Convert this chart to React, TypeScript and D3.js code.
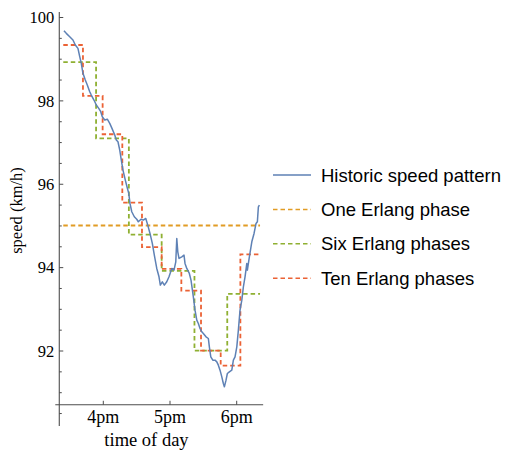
import React from "react";
import * as d3 from "d3";

// time in minutes after 15:00
const timeMin = [24.6,26.7,29.8,32.7,34.8,37.2,38.8,40.2,41.7,43.8,45.6,47.8,49.2,51.6,53.7,55.9,57.7,59.1,61.3,63.6,65.8,67.8,70.3,71.7,73.2,74.8,76.2,77.7,79.8,81.3,82.9,84.0,85.6,87.9,90.1,91.5,93.9,96.0,98.2,100.0,102.0,104.1,105.9,108.1,110.1,111.3,113.1,114.9,117.1,119.1,121.6,123.6,125.2,126.1,127.0,128.1,130.6,132.6,133.5,135.1,137.4,138.9,141.0,142.5,144.1,145.5,147.0,148.6,150.0,152.4,154.5,155.4,156.7,158.5,160.5,162.1,163.5,165.0,166.6,168.0,168.9,170.4,171.6,173.4,175.6,177.0,178.5,180.1,181.5,183.0,184.6,186.0,187.5,189.1,189.6,191.4,193.6,195.6,197.4,198.6,199.5,200.4];
const historicSpeed = [99.68,99.62,99.54,99.46,99.34,99.26,99.06,98.90,98.66,98.50,98.38,98.22,98.14,98.02,97.90,97.82,97.74,97.62,97.54,97.56,97.46,97.34,97.18,97.06,97.02,96.82,96.58,96.34,96.10,95.94,95.78,95.54,95.34,95.22,95.16,95.10,95.16,95.14,95.18,95.02,94.82,94.58,94.30,93.98,93.78,93.58,93.66,93.58,93.66,93.78,93.98,93.94,94.14,94.70,94.38,94.22,94.26,94.30,94.10,93.98,93.86,93.70,93.30,92.98,92.74,92.66,92.54,92.46,92.42,92.34,92.30,92.10,91.86,91.78,91.78,91.74,91.66,91.54,91.38,91.22,91.14,91.30,91.46,91.50,91.54,91.78,91.86,92.10,92.50,92.98,93.22,93.54,93.78,94.10,93.94,94.26,94.62,94.82,95.06,95.10,95.46,95.50];

const phaseStart = 24;
const phaseEnd = 201;
const oneErlang = [95.01];
const sixErlang = [98.93, 97.1, 94.79, 93.92, 92.01, 93.37];
const tenErlang = [99.34, 98.12, 97.2, 95.56, 94.49, 93.97, 93.45, 92.01, 91.65, 94.32];

const xTickMin = [60, 120, 180];
const xTickLabels = ["4pm", "5pm", "6pm"];
const yMajor = [92, 94, 96, 98, 100];
const yMinor = d3.range(90.5, 100.01, 0.5);

const legendItems = [
  { label: "Historic speed pattern", color: "#5E81B5", dashed: false },
  { label: "One Erlang phase", color: "#E19C24", dashed: true },
  { label: "Six Erlang phases", color: "#8FB032", dashed: true },
  { label: "Ten Erlang phases", color: "#EB6235", dashed: true },
];

export default function App() {
  const x = d3.scaleLinear().domain([60, 180]).range([103.3, 236.7]);
  const y = d3.scaleLinear().domain([92, 100]).range([351, 17.5]);
  const axisX = x(phaseStart - 3.6);
  const axisY = y(90.71);
  const xEnd = x(phaseEnd + 2.8);
  const yTop = y(100.13);
  const yBottom = y(90.2);

  const line = d3
    .line<[number, number]>()
    .x((d) => x(d[0]))
    .y((d) => y(d[1]));
  const stepLine = d3
    .line<[number, number]>()
    .x((d) => x(d[0]))
    .y((d) => y(d[1]))
    .curve(d3.curveStepAfter);

  const stepPts = (vals: number[]): [number, number][] => {
    const w = (phaseEnd - phaseStart) / vals.length;
    const pts: [number, number][] = vals.map((v, i) => [phaseStart + i * w, v]);
    pts.push([phaseEnd, vals[vals.length - 1]]);
    return pts;
  };

  const hist: [number, number][] = timeMin.map((t, i) => [t, historicSpeed[i]]);
  const axisColor = "#4d4d4d";
  const serif = "'Liberation Serif', 'Times New Roman', serif";
  const sans = "'Liberation Sans', Arial, sans-serif";
  const dash = "4.5,3";

  return (
    <svg width={505} height={452} style={{ position: "absolute", left: 0, top: 0, background: "#fff" }}>
      {/* axes */}
      <line x1={axisX} x2={axisX} y1={yTop} y2={yBottom} stroke={axisColor} strokeWidth={1.1} />
      <line x1={axisX - 4} x2={xEnd} y1={axisY} y2={axisY} stroke={axisColor} strokeWidth={1.1} />
      {yMinor.map((v) => {
        const major = yMajor.includes(Math.round(v * 100) / 100);
        return (
          <line key={v} x1={axisX} x2={axisX + (major ? 4 : 2.5)} y1={y(v)} y2={y(v)} stroke={axisColor} strokeWidth={1} />
        );
      })}
      {yMajor.map((v) => (
        <text key={v} x={axisX - 5} y={y(v)} dy="0.35em" textAnchor="end" fontFamily={serif} fontSize={16.5} fill="#000">
          {v}
        </text>
      ))}
      {xTickMin.map((m, i) => (
        <g key={m}>
          <line x1={x(m)} x2={x(m)} y1={axisY} y2={axisY - 4} stroke={axisColor} strokeWidth={1} />
          <text x={x(m)} y={423} textAnchor="middle" fontFamily={serif} fontSize={18} fill="#000">
            {xTickLabels[i]}
          </text>
        </g>
      ))}
      <text x={146.5} y={446} textAnchor="middle" fontFamily={serif} fontSize={18.5} fill="#000">
        time of day
      </text>
      <text transform={`translate(22,210.5) rotate(-90)`} textAnchor="middle" fontFamily={serif} fontSize={16.5} fill="#000">
        speed (km/h)
      </text>

      {/* series */}
      <path d={stepLine(stepPts(oneErlang)) || ""} fill="none" stroke="#E19C24" strokeWidth={1.8} strokeDasharray={dash} />
      <path d={stepLine(stepPts(sixErlang)) || ""} fill="none" stroke="#8FB032" strokeWidth={1.8} strokeDasharray={dash} />
      <path d={stepLine(stepPts(tenErlang)) || ""} fill="none" stroke="#EB6235" strokeWidth={1.8} strokeDasharray={dash} />
      <path d={line(hist) || ""} fill="none" stroke="#5E81B5" strokeWidth={1.5} strokeLinejoin="round" />

      {/* legend */}
      {legendItems.map((it, i) => {
        const ly = 175 + i * 34.4;
        return (
          <g key={it.label}>
            <line x1={273} x2={311} y1={ly} y2={ly} stroke={it.color} strokeWidth={it.dashed ? 1.5 : 1.3} strokeDasharray={it.dashed ? dash : undefined} />
            <text x={321} y={ly} dy="0.36em" fontFamily={sans} fontSize={18.5} fill="#000">
              {it.label}
            </text>
          </g>
        );
      })}
    </svg>
  );
}
